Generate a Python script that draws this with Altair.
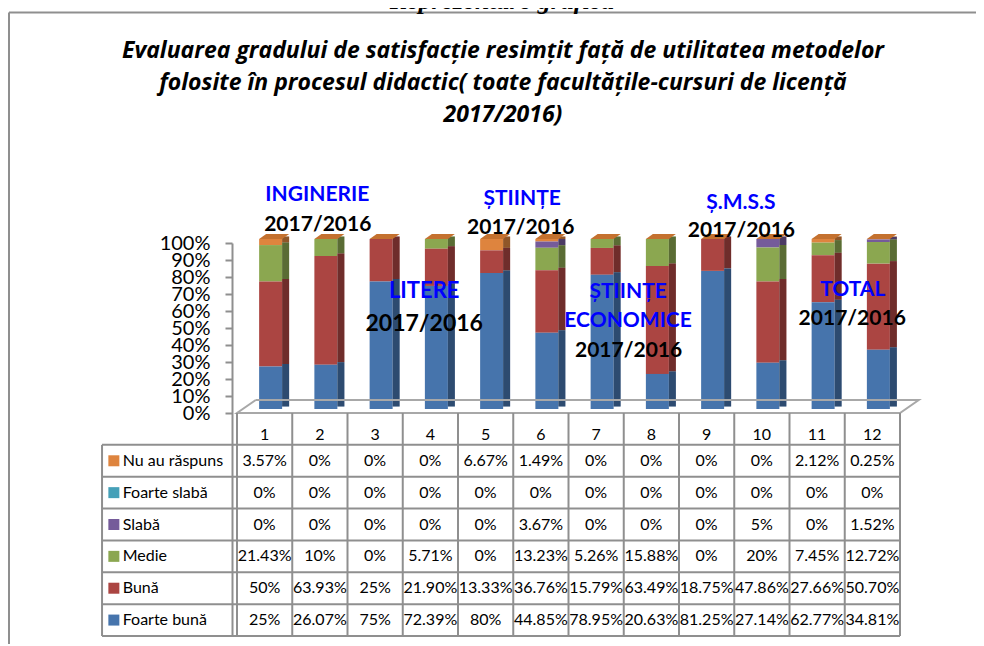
import altair as alt
import pandas as pd

# ---------------- data ----------------
categories = [1, 2, 3, 4, 5, 6, 7, 8, 9, 10, 11, 12]
series_names = ["Nu au răspuns", "Foarte slabă", "Slabă", "Medie", "Bună", "Foarte bună"]
series_colors = ["#DE843E", "#45A0B8", "#755B9A", "#8BA750", "#AB4542", "#4674AC"]

nu_au_raspuns = ["3.57%", "0%", "0%", "0%", "6.67%", "1.49%", "0%", "0%", "0%", "0%", "2.12%", "0.25%"]
foarte_slaba = ["0%", "0%", "0%", "0%", "0%", "0%", "0%", "0%", "0%", "0%", "0%", "0%"]
slaba = ["0%", "0%", "0%", "0%", "0%", "3.67%", "0%", "0%", "0%", "5%", "0%", "1.52%"]
medie = ["21.43%", "10%", "0%", "5.71%", "0%", "13.23%", "5.26%", "15.88%", "0%", "20%", "7.45%", "12.72%"]
buna = ["50%", "63.93%", "25%", "21.90%", "13.33%", "36.76%", "15.79%", "63.49%", "18.75%", "47.86%", "27.66%", "50.70%"]
foarte_buna = ["25%", "26.07%", "75%", "72.39%", "80%", "44.85%", "78.95%", "20.63%", "81.25%", "27.14%", "62.77%", "34.81%"]

y_ticks = [0, 10, 20, 30, 40, 50, 60, 70, 80, 90, 100]

title_lines = [
    "Evaluarea gradului de satisfacție resimțit față de utilitatea metodelor",
    "folosite în procesul didactic( toate facultățile-cursuri de licență",
    "2017/2016)",
]
top_caption = "Reprezentare grafică"

group_names = ["INGINERIE", "LITERE", "ȘTIINȚE", "ȘTIINȚE", "ECONOMICE", "Ș.M.S.S", "TOTAL"]
year_label = "2017/2016"

# ---------------- layout helpers ----------------
PW, PH = 673, 393          # plot area
XU = PW / 12.0             # px per category
YU = 1.7                   # px per percent
X0, Y0 = 232, 243          # page position of plot area


def xd(px):
    return 0.5 + (px - X0) / XU


def yd(py):
    return (Y0 + 100 * YU - py) / YU


YMIN = yd(636)
ROWH = -YMIN / 7.0

X = alt.Scale(domain=[0.5, 12.5], nice=False, zero=False)
Y = alt.Scale(domain=[YMIN, 100], nice=False, zero=False)
GRID = "#8F8F8F"
FONT = "Lato"
YAX = alt.Axis(values=y_ticks, labelExpr="datum.value + '%'", tickSize=7, labelPadding=15,
               labelFont=FONT, labelFontSize=20, labelColor="black", domainColor=GRID,
               domainWidth=2, tickColor=GRID, tickWidth=2, grid=False, title=None,
               labelOverlap=False, labelFlush=False)


def xe(f):
    return alt.X(f, scale=X, axis=None)


def ye(f):
    return alt.Y(f, scale=Y, axis=YAX)


arrays = [nu_au_raspuns, foarte_slaba, slaba, medie, buna, foarte_buna]
rows = []
for r, (name, arr) in enumerate(zip(series_names, arrays)):
    for i, lab in enumerate(arr):
        rows.append(dict(cat=categories[i], serie=name, label=lab,
                         value=float(lab.rstrip("%")), order=5 - r, row=r,
                         ty=-(r + 1.5) * ROWH))
df = pd.DataFrame(rows)

color = alt.Color("serie:N", scale=alt.Scale(domain=series_names, range=series_colors), legend=None)

base = alt.Chart(df)
stacked = base.transform_stack(stack="value", groupby=["cat"], as_=["y0", "y1"],
                               sort=[alt.SortField(field="order", order="ascending")])

front = stacked.mark_bar(size=23, xOffset=6, yOffset=-4, y2Offset=-4).encode(
    x=xe("cat:Q"), y=ye("y0:Q"), y2="y1:Q", color=color)

side = stacked.mark_bar(size=7, xOffset=21, yOffset=-6.5, y2Offset=-6.5).encode(
    x=xe("cat:Q"), y=ye("y0:Q"), y2="y1:Q", color=color)
shade = stacked.mark_bar(size=7, xOffset=21, yOffset=-6.5, y2Offset=-6.5,
                         color="black", opacity=0.35).encode(
    x=xe("cat:Q"), y=ye("y0:Q"), y2="y1:Q")

top_path = "M-1,0.1667L0.5333,0.1667L1,-0.1667L-0.5333,-0.1667Z"
top = base.transform_aggregate(total="sum(value)", groupby=["cat"]).mark_point(
    shape=top_path, size=900, filled=True, opacity=1, color="#C4712F",
    strokeWidth=0, xOffset=9.5, yOffset=-6.5).encode(
    x=xe("cat:Q"), y=ye("total:Q"))

# floor parallelogram
floor_df = pd.DataFrame({"fx": [xd(251), 0.5, 12.5, xd(924), xd(251)],
                         "fy": [yd(400), 0, 0, yd(400), yd(400)],
                         "o": [0, 1, 2, 3, 4]})
floor = alt.Chart(floor_df).mark_line(color="#A8A8A8", strokeWidth=2).encode(
    x=xe("fx:Q"), y=ye("fy:Q"), order="o:O")

# table grid
hl = pd.DataFrame({"y": [-k * ROWH for k in range(1, 8)]})
hl["xa"] = xd(95)
hl["xb"] = 12.5
hlines = alt.Chart(hl).mark_rule(color=GRID, strokeWidth=2).encode(
    x=xe("xa:Q"), x2="xb:Q", y=ye("y:Q"))
vl = pd.DataFrame({"x": [0.5 + j for j in range(13)] + [xd(95)],
                   "ya": [0.0] * 13 + [-ROWH], "yb": [YMIN] * 14})
vlines = alt.Chart(vl).mark_rule(color=GRID, strokeWidth=2).encode(
    x=xe("x:Q"), y=ye("ya:Q"), y2="yb:Q")

hdr = pd.DataFrame({"cat": categories, "lab": [str(c) for c in categories]})
hdr["ty"] = -0.5 * ROWH
header = alt.Chart(hdr).mark_text(font=FONT, fontSize=16, color="black", dy=6).encode(
    x=xe("cat:Q"), y=ye("ty:Q"), text="lab:N")

cells = base.mark_text(font=FONT, fontSize=16, color="black").encode(
    x=xe("cat:Q"), y=ye("ty:Q"), text="label:N")

leg = pd.DataFrame({"serie": series_names,
                    "ty": [-(r + 1.5) * ROWH for r in range(6)]})
leg["sx"] = xd(107)
leg["lx"] = xd(116)
squares = alt.Chart(leg).mark_square(size=121, opacity=1).encode(
    x=xe("sx:Q"), y=ye("ty:Q"), color=color)
row_labels = alt.Chart(leg).mark_text(font=FONT, fontSize=16, color="black", align="left").encode(
    x=xe("lx:Q"), y=ye("ty:Q"), text="serie:N")

# group annotations
ann = pd.DataFrame({
    "t": [group_names[0], year_label, group_names[1], year_label, group_names[2], year_label,
          group_names[3], group_names[4], year_label, group_names[5], year_label,
          group_names[6], year_label],
    "ax": [xd(313.5), xd(314), xd(422), xd(422), xd(521.5), xd(520),
           xd(629), xd(629), xd(629.5), xd(743.5), xd(744), xd(857), xd(856.5)],
    "ay": [yd(195), yd(224.5), yd(290.5), yd(324), yd(198.5), yd(227.5),
           yd(291.5), yd(320.5), yd(350.5), yd(202.5), yd(230.5), yd(289.5), yd(319)],
    "c": ["blue", "black", "blue", "black", "blue", "black", "blue", "blue", "black",
          "blue", "black", "blue", "black"],
    "fs": [21, 21, 22, 23, 21, 21, 21, 21, 21, 21, 21, 21, 21],
})
annotations = alt.Chart(ann).mark_text(font=FONT, fontWeight="bold", baseline="middle").encode(
    x=xe("ax:Q"), y=ye("ay:Q"), text="t:N",
    color=alt.Color("c:N", scale=None), size=alt.Size("fs:Q", scale=None))

# chart title lines (pixel placement, drawn as text)
tl = pd.DataFrame({"t": title_lines, "py": [58 - Y0, 90 - Y0, 122 - Y0]})
title_text = alt.Chart(tl).mark_text(font="Open Sans", fontSize=23, fontWeight="bold",
                                     fontStyle="italic", color="black",
                                     baseline="alphabetic").encode(
    x=alt.value(503 - X0), y=alt.Y("py:Q", scale=None), text="t:N")

# frame and cut caption
one = pd.DataFrame({"a": [0]})
frame_top = alt.Chart(one).mark_rule(color=GRID, strokeWidth=2).encode(
    x=alt.value(9 - X0), x2=alt.value(984 - X0), y=alt.value(12.5 - Y0))
frame_left = alt.Chart(one).mark_rule(color=GRID, strokeWidth=2).encode(
    x=alt.value(9 - X0), y=alt.value(12.5 - Y0), y2=alt.value(646 - Y0))
caption = alt.Chart(pd.DataFrame({"t": [top_caption]})).mark_text(
    font="Liberation Serif", fontSize=26, fontWeight="bold", fontStyle="italic",
    color="black", baseline="alphabetic").encode(
    x=alt.value(502 - X0), y=alt.value(9 - Y0), text="t:N")

chart = alt.layer(
    front, side, shade, top, floor, vlines, hlines,
    header, cells, squares, row_labels, annotations,
    frame_top, frame_left, caption, title_text,
).properties(
    width=PW, height=PH,
    padding={"left": 224, "top": 235, "right": 71, "bottom": 8},
    autosize=alt.AutoSizeParams(type="none"),
    background="white",
).configure_view(stroke=None)

chart.save("out.html", embed_options={"renderer": "svg", "actions": False})
